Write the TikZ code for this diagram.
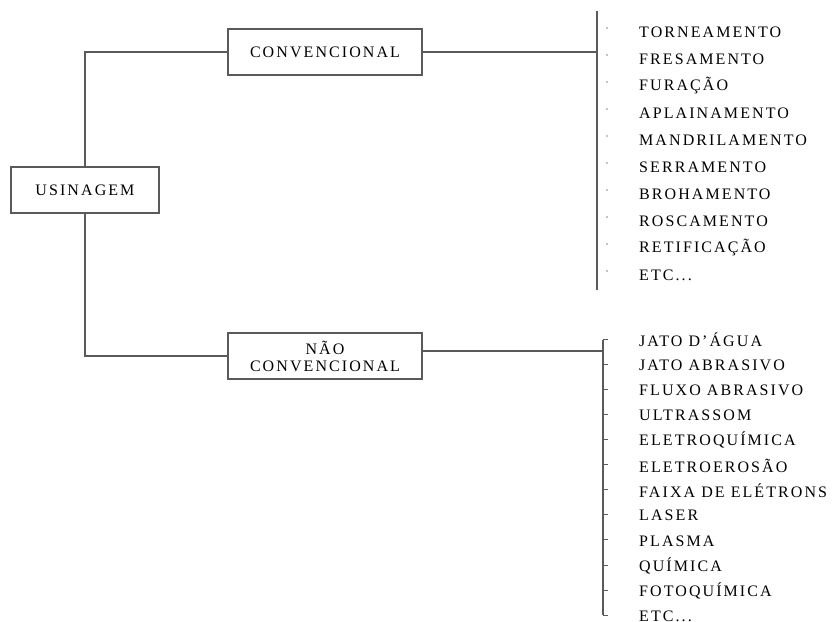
\documentclass[tikz,border=0pt]{standalone}
\usepackage{fontspec}
\setmainfont{Liberation Serif}[LetterSpace=13]
\usetikzlibrary{positioning}

\definecolor{linegray}{HTML}{5A5A5A}
\newcommand\etcitem{ETC...}
\tikzset{
  box/.style={draw=linegray, line width=1.6pt, fill=white, align=center,
    minimum height=46pt, inner sep=2pt, font=\fontsize{16}{17}\selectfont},
  item/.style={anchor=west, inner sep=0pt, font=\fontsize{16}{17}\selectfont},
  link/.style={draw=linegray, line width=1.6pt},
}

\begin{document}
\begin{tikzpicture}[x=1pt,y=-1pt]
\useasboundingbox (0,0) rectangle (837,621);

\node[box, minimum width=148pt] (usinagem) at (85,190) {USINAGEM};
\node[box, minimum width=194pt] (conv) at (325,52) {CONVENCIONAL};
\node[box, minimum width=194pt] (naoconv) at (325,356) {NÃO\\CONVENCIONAL};

\draw[link] (usinagem.north) |- (conv.west);
\draw[link] (usinagem.south) |- (naoconv.west);

% convencional
\coordinate (bA top) at (597,11);
\coordinate (bA bot) at (597,290);
\draw[link] (bA top) -- (bA bot);
\draw[link] (conv.east) -- (conv.east -| bA top);
\foreach \txt [count=\i] in {TORNEAMENTO,FRESAMENTO,FURAÇÃO,APLAINAMENTO,
    MANDRILAMENTO,SERRAMENTO,BROHAMENTO,ROSCAMENTO,RETIFICAÇÃO,\etcitem}{
  \node[item] (c\i) at (639,{32+(\i-1)*27}) {\txt};
  \fill[black] (607,{28+(\i-1)*27}) circle (0.7pt);
}

% nao convencional
\coordinate (bB top) at (603,340);
\coordinate (bB bot) at (603,615);
\draw[link] (bB top) -- (bB bot);
\draw[link] ([yshift=5pt]naoconv.east) -- ([yshift=5pt]naoconv.east -| bB top);
\foreach \txt [count=\i] in {JATO D’ÁGUA,JATO ABRASIVO,FLUXO ABRASIVO,ULTRASSOM,
    ELETROQUÍMICA,ELETROEROSÃO,FAIXA DE ELÉTRONS,LASER,PLASMA,QUÍMICA,
    FOTOQUÍMICA,\etcitem}{
  \node[item] (n\i) at (639,{340+(\i-1)*25.1}) {\txt};
  \draw[linegray, line width=0.8pt] (603,{339+(\i-1)*25.1}) -- ++(5,0);
}
\end{tikzpicture}
\end{document}
